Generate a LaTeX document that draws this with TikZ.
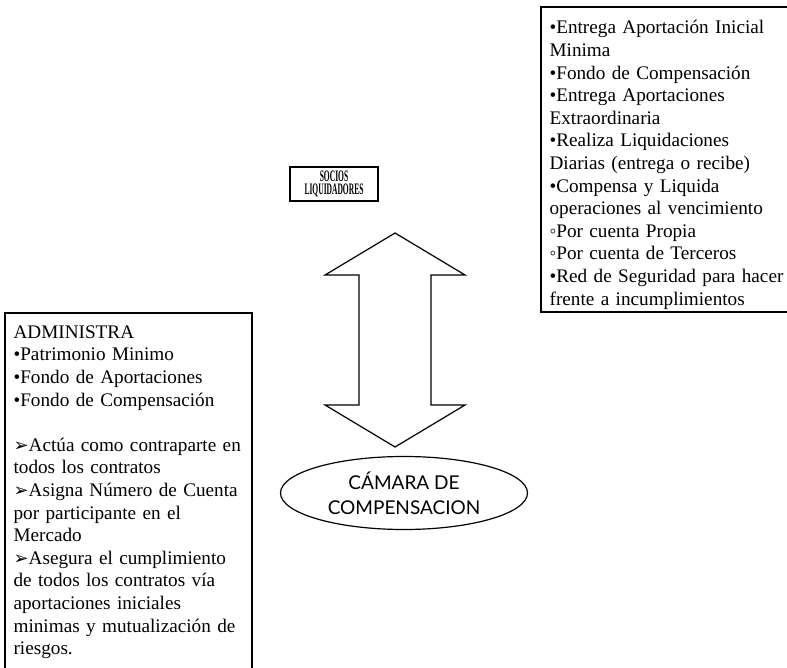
\documentclass[tikz,border=0pt]{standalone}
\usepackage{fontspec}
\usepackage{graphicx}
\setmainfont{Liberation Serif}
\newfontfamily\flechafont{DejaVu Sans}
\newfontfamily\camarafont{Lato}
\usetikzlibrary{shapes.geometric}

\newcommand{\flecha}{{\flechafont\fontsize{9}{9}\selectfont ➢}}
\newcommand{\angosto}[1]{\scalebox{0.47}[1]{#1}}

\begin{document}
\begin{tikzpicture}[x=0.5pt,y=-0.5pt,line width=0.6pt,
  texto/.style={anchor=north west,align=left,inner xsep=3.5pt,inner ysep=0pt,
    text width=135pt,font=\fontsize{9.6}{11.3}\selectfont}]
\useasboundingbox (0,0) rectangle (787,668);

% socios liquidadores
\node[draw,minimum width=44pt,minimum height=17pt,inner sep=1pt,align=center,
  font=\bfseries\fontsize{8}{6.8}\selectfont] (socios) at (334,184)
  {\angosto{SOCIOS}\\\angosto{LIQUIDADORES}};

% camara
\node[draw,ellipse,minimum width=123.5pt,minimum height=36.5pt,inner sep=0pt,align=center,
  font=\camarafont\fontsize{9.5}{12.5}\selectfont] (camara) at (404,493)
  {CÁMARA DE\\COMPENSACION};

% flecha doble entre los dos
\draw (395,233) -- (465,275) -- (431,275) -- (431,405) -- (465,405) -- (395,447)
  -- (325,405) -- (359,405) -- (359,275) -- (325,275) -- cycle;

% funciones de los socios
\node[texto] (socfun) at (542,20)
  {•Entrega Aportación Inicial\\
   Minima\\
   •Fondo de Compensación\\
   •Entrega Aportaciones\\
   Extraordinaria\\
   •Realiza Liquidaciones\\
   Diarias (entrega o recibe)\\
   •Compensa y Liquida\\
   operaciones al vencimiento\\
   ◦Por cuenta Propia\\
   ◦Por cuenta de Terceros\\
   •Red de Seguridad para hacer\\
   frente a incumplimientos};
\draw (787,7) -- (541,7) -- (541,312) -- (787,312);

% funciones de la camara
\node[texto] (camfun) at (6,325)
  {ADMINISTRA\\
   •Patrimonio Minimo\\
   •Fondo de Aportaciones\\
   •Fondo de Compensación\\[11.3pt]
   \flecha Actúa como contraparte en\\
   todos los contratos\\
   \flecha Asigna Número de Cuenta\\
   por participante en el\\
   Mercado\\
   \flecha Asegura el cumplimiento\\
   de todos los contratos vía\\
   aportaciones iniciales\\
   minimas y mutualización de\\
   riesgos.};
\draw (5,668) -- (5,313) -- (252,313) -- (252,668);

\end{tikzpicture}
\end{document}
